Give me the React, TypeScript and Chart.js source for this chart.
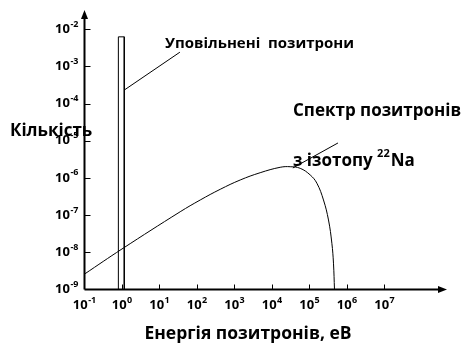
import React, { useEffect, useRef } from "react";
import { Chart, registerables } from "chart.js";

Chart.register(...registerables);

// Spectrum of positrons from 22Na (energy in eV, relative count)
const ENERGY = [0.1, 1, 35.6, 122, 416, 1420, 4840, 16550, 30550, 56500, 104500, 157400, 236000, 321000, 395000, 436000, 464000];
const COUNTS = [2.6e-9, 1.23e-8, 1.23e-7, 2.55e-7, 4.94e-7, 8.79e-7, 1.38e-6, 1.93e-6, 2.0e-6, 1.81e-6, 1.2e-6, 7.2e-7, 2.55e-7, 7.4e-8, 1.75e-8, 5.1e-9, 1e-9];

// Moderated positrons peak (narrow bar)
const BAR_ENERGY = [0.8, 1.15];
const BAR_COUNT = [1e-9, 6.2e-3];

// Leader lines for annotations
const LEADER_SLOW_E = [1.15, 35];
const LEADER_SLOW_N = [2.3e-4, 2.4e-3];
const LEADER_SPEC_E = [36000, 575000];
const LEADER_SPEC_N = [1.85e-6, 8.7e-6];

const X_TICK_EXP = [-1, 0, 1, 2, 3, 4, 5, 6, 7];
const Y_TICK_EXP = [-9, -8, -7, -6, -5, -4, -3, -2];

const X_MIN = 0.1;
const X_MAX = Math.pow(10, 8.667);
const Y_MIN = 1e-9;
const Y_MAX = Math.pow(10, -1.486);

const FONT = "'Open Sans', 'Noto Sans', sans-serif";

const LABEL_SLOW = "Уповільнені  позитрони";
const LABEL_SPEC1 = "Спектр позитронів";
const LABEL_SPEC2A = "з ізотопу ";
const LABEL_SPEC2SUP = "22";
const LABEL_SPEC2B = "Na";
const Y_TITLE = "Кількість";
const X_TITLE = "Енергія позитронів, еВ";

function powLabelWidth(ctx: CanvasRenderingContext2D, exp: string) {
  ctx.font = `bold 13px ${FONT}`;
  const w1 = ctx.measureText("10").width;
  ctx.font = `bold 9px ${FONT}`;
  const w2 = ctx.measureText(exp).width;
  return w1 + w2 + 0.5;
}

function drawPow(ctx: CanvasRenderingContext2D, exp: string, left: number, cy: number) {
  ctx.textAlign = "left";
  ctx.textBaseline = "middle";
  ctx.font = `bold 13px ${FONT}`;
  const w1 = ctx.measureText("10").width;
  ctx.fillText("10", left, cy);
  ctx.font = `bold 9px ${FONT}`;
  ctx.fillText(exp, left + w1 + 0.5, cy - 5);
}

const overlay = {
  id: "overlay",
  afterDraw(chart: any) {
    const ctx: CanvasRenderingContext2D = chart.ctx;
    const xs = chart.scales.x;
    const ys = chart.scales.y;
    const area = chart.chartArea;
    const x0 = xs.getPixelForValue(X_MIN);
    const y0 = ys.getPixelForValue(Y_MIN);
    ctx.save();
    ctx.strokeStyle = "#000";
    ctx.fillStyle = "#000";
    // axes
    ctx.lineWidth = 2;
    ctx.beginPath();
    ctx.moveTo(x0, y0);
    ctx.lineTo(x0, area.top + 6);
    ctx.moveTo(x0, y0);
    ctx.lineTo(area.right - 6, y0);
    ctx.stroke();
    // arrows
    ctx.beginPath();
    ctx.moveTo(x0, area.top);
    ctx.lineTo(x0 - 3.5, area.top + 9);
    ctx.lineTo(x0 + 3.5, area.top + 9);
    ctx.closePath();
    ctx.fill();
    ctx.beginPath();
    ctx.moveTo(area.right, y0);
    ctx.lineTo(area.right - 9, y0 - 3.5);
    ctx.lineTo(area.right - 9, y0 + 3.5);
    ctx.closePath();
    ctx.fill();
    // ticks
    ctx.lineWidth = 1;
    ctx.beginPath();
    X_TICK_EXP.forEach((e) => {
      if (e === -1) return;
      const px = Math.round(xs.getPixelForValue(Math.pow(10, e))) + 0.5;
      ctx.moveTo(px, y0);
      ctx.lineTo(px, y0 - 5);
    });
    Y_TICK_EXP.forEach((e) => {
      if (e === -9) return;
      const py = Math.round(ys.getPixelForValue(Math.pow(10, e))) + 0.5;
      ctx.moveTo(x0, py);
      ctx.lineTo(x0 + 6, py);
    });
    ctx.stroke();
    // tick labels
    X_TICK_EXP.forEach((e) => {
      const px = xs.getPixelForValue(Math.pow(10, e));
      const s = String(e);
      const w = powLabelWidth(ctx, s);
      drawPow(ctx, s, px - w / 2, y0 + 15.5);
    });
    Y_TICK_EXP.forEach((e) => {
      const py = ys.getPixelForValue(Math.pow(10, e));
      const s = String(e);
      const w = powLabelWidth(ctx, s);
      drawPow(ctx, s, x0 - 6 - w, py);
    });
    // annotation texts
    ctx.textBaseline = "middle";
    ctx.textAlign = "left";
    ctx.font = `bold 15px ${FONT}`;
    ctx.fillText(LABEL_SLOW, 165, 44);
    ctx.font = `bold 17px ${FONT}`;
    ctx.fillText(LABEL_SPEC1, 293, 111);
    ctx.fillText(LABEL_SPEC2A, 293, 161);
    const wa = ctx.measureText(LABEL_SPEC2A).width;
    ctx.font = `bold 11px ${FONT}`;
    ctx.fillText(LABEL_SPEC2SUP, 293 + wa, 154);
    const ws = ctx.measureText(LABEL_SPEC2SUP).width;
    ctx.font = `bold 17px ${FONT}`;
    ctx.fillText(LABEL_SPEC2B, 293 + wa + ws + 1, 161);
    // axis titles
    ctx.font = `bold 17px ${FONT}`;
    ctx.fillText(Y_TITLE, 10, 131);
    ctx.textAlign = "center";
    ctx.font = `bold 17.5px ${FONT}`;
    ctx.fillText(X_TITLE, 248, 334);
    ctx.restore();
  },
};

export default function App() {
  const ref = useRef<HTMLCanvasElement>(null);
  useEffect(() => {
    if (!ref.current) return;
    const pts = (xs: number[], ys: number[]) => xs.map((x, i) => ({ x, y: ys[i] }));
    const barPts = [
      { x: BAR_ENERGY[0], y: BAR_COUNT[0] },
      { x: BAR_ENERGY[0], y: BAR_COUNT[1] },
      { x: BAR_ENERGY[1], y: BAR_COUNT[1] },
      { x: BAR_ENERGY[1], y: BAR_COUNT[0] },
    ];
    const common = {
      showLine: true,
      borderColor: "#000",
      borderWidth: 1,
      pointRadius: 0,
      fill: false,
    };
    const chart = new Chart(ref.current, {
      type: "scatter",
      data: {
        datasets: [
          { ...common, label: "spectrum", data: pts(ENERGY, COUNTS), tension: 0.4 } as any,
          { ...common, label: "bar", data: barPts, tension: 0 } as any,
          { ...common, label: "lead1", data: pts(LEADER_SLOW_E, LEADER_SLOW_N), tension: 0 } as any,
          { ...common, label: "lead2", data: pts(LEADER_SPEC_E, LEADER_SPEC_N), tension: 0 } as any,
        ],
      },
      options: {
        responsive: false,
        animation: false,
        events: [],
        layout: { padding: { left: 84.5, right: 18, top: 10, bottom: 62.5 } },
        plugins: { legend: { display: false }, tooltip: { enabled: false } },
        scales: {
          x: { type: "logarithmic", display: false, min: X_MIN, max: X_MAX },
          y: { type: "logarithmic", display: false, min: Y_MIN, max: Y_MAX },
        },
      },
      plugins: [overlay],
    });
    return () => chart.destroy();
  }, []);
  return (
    <div style={{ position: "absolute", left: 0, top: 0, width: 465, height: 352, background: "#fff" }}>
      <canvas ref={ref} width={465} height={352} style={{ display: "block" }} />
    </div>
  );
}
